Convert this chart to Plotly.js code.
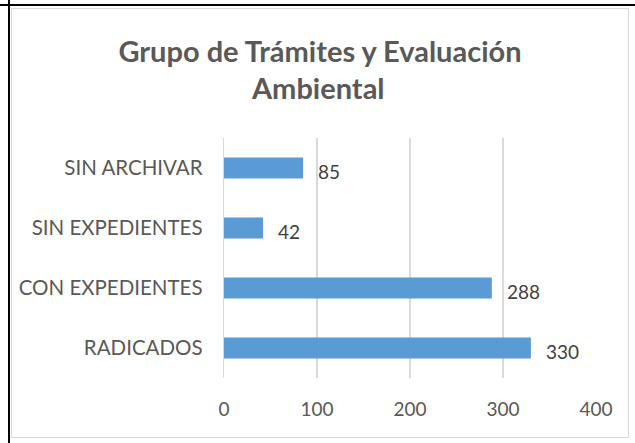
<!DOCTYPE html>
<html><head><meta charset="utf-8">
<script src="https://cdn.plot.ly/plotly-3.0.1.min.js"></script>
<style>
html,body{margin:0;padding:0;background:#fff;width:635px;height:443px;overflow:hidden;position:relative}
#hl{position:absolute;left:0;top:4px;width:635px;height:2px;background:#000}
#vl{position:absolute;left:8px;top:0;width:2px;height:443px;background:#000}
#chart{position:absolute;left:11px;top:8px;width:618px;height:430px;box-sizing:border-box;border:1px solid #D9D9D9}
</style></head><body>
<div id="hl"></div><div id="vl"></div>
<div id="chart"></div>
<script>
const categories = ["RADICADOS", "CON EXPEDIENTES", "SIN EXPEDIENTES", "SIN ARCHIVAR"];
const values = [330, 288, 42, 85];
const xTicks = [0, 100, 200, 300, 400];
const titleLine1 = "Grupo de Trámites y Evaluación";
const titleLine2 = "Ambiental";

const font = "Lato, 'Open Sans', sans-serif";
const titleFont = {family: font, size: 29, color: '#595959', weight: 'bold'};
const annotations = categories.map((c, i) => ({
  x: values[i], y: c, xref: 'x', yref: 'y', text: String(values[i]),
  showarrow: false, xanchor: 'left', xshift: 13, yshift: -3,
  font: {family: font, size: 19, color: '#404040'}
}));
annotations.push({
  x: 0.253, y: 1.212, xref: 'paper', yref: 'paper', text: titleLine2,
  showarrow: false, xanchor: 'center', yanchor: 'middle',
  font: titleFont
});

Plotly.newPlot('chart', [{
  type: 'bar', orientation: 'h', y: categories, x: values,
  marker: {color: '#5B9BD5'}, hoverinfo: 'none'
}], {
  width: 616, height: 428,
  margin: {l: 212, r: 32, t: 129, b: 59},
  paper_bgcolor: '#fff', plot_bgcolor: '#fff',
  bargap: 0.65, showlegend: false,
  title: {text: titleLine1, x: 0.5, xanchor: 'center', yref: 'container', y: 0.9, yanchor: 'middle',
          font: titleFont},
  xaxis: {range: [0, 400], tickvals: xTicks, ticktext: xTicks.map(String),
          showgrid: true, gridcolor: '#D9D9D9', gridwidth: 1.3, zeroline: false,
          showline: false, ticks: '', ticklabelstandoff: 18,
          tickfont: {family: font, size: 19, color: '#595959'}, fixedrange: true},
  yaxis: {categoryorder: 'array', categoryarray: categories, showgrid: false,
          zeroline: false, showline: true, linecolor: '#D9D9D9', linewidth: 1.3,
          ticks: '', ticklabelstandoff: 16,
          tickfont: {family: font, size: 20.5, color: '#595959'}, fixedrange: true},
  annotations: annotations
}, {displayModeBar: false, staticPlot: true});
</script></body></html>
